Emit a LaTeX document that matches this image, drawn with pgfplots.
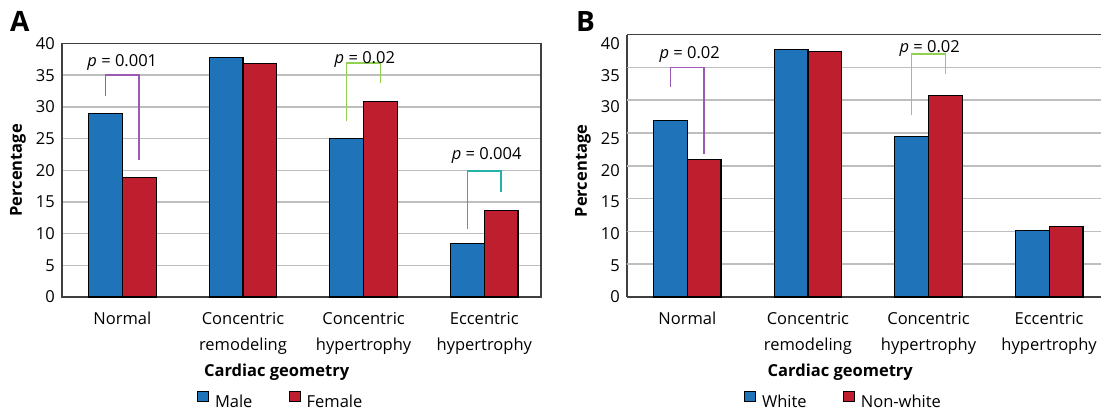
\documentclass[border=0pt]{standalone}
\usepackage{fontspec}
\setmainfont{Open Sans}
\usepackage{pgfplots}
\pgfplotsset{compat=1.18}

\definecolor{barblue}{RGB}{31,115,185}
\definecolor{barred}{RGB}{190,30,45}
\definecolor{brpurple}{RGB}{155,89,182}
\definecolor{brgreen}{RGB}{146,208,80}
\definecolor{brteal}{RGB}{38,178,168}
\definecolor{gridgray}{RGB}{190,190,190}

\newcommand{\lbl}{\fontsize{16.5}{19}\selectfont}

\pgfplotsset{
  panel/.style={
    scale only axis,
    xmin=-0.5, ymin=0, ymax=40,
    xtick={0,1,2,3},
    xticklabels={Normal,{Concentric\\remodeling},{Concentric\\hypertrophy},{Eccentric\\hypertrophy}},
    major tick length=0pt,
    tick style={draw=none},
    axis line style={black!75, line width=1.3pt},
    major grid style={gridgray, line width=1.5pt},
    xticklabel style={font=\fontsize{16.5}{26}\selectfont, align=center, anchor=north, inner sep=0pt, yshift=-15pt},
    yticklabel style={font=\lbl, anchor=east, inner sep=0pt, xshift=-7pt},
    /pgf/number format/assume math mode=true,
    xlabel={Cardiac geometry},
    ylabel={Percentage},
    label style={font=\lbl\bfseries},
    clip=false,
    legend columns=2,
    legend style={draw=none, fill=none, inner sep=0pt, font=\lbl, anchor=north west,
      nodes={inner sep=0pt},
      /tikz/every even column/.append style={column sep=36pt}},
  },
  bars/.style={ybar, bar width=0.28, draw=black, line width=1.2pt, fill=#1,
    legend image code/.code={\draw[##1] (0pt,0pt) rectangle (11pt,10pt); \path (17pt,0pt);}},
  bracket/.style={draw=#1, line width=1.5pt, mark=none, forget plot},
}

\begin{document}
\begin{tikzpicture}

% Panel A: by sex
\begin{axis}[
    panel,
    name=a,
    at={(0pt,0pt)}, anchor=south west,
    width=479pt, height=253.5pt,
    xmax=3.47,
    ytick={0,5,...,40},
    ymajorgrids,
    xlabel style={at={(axis description cs:0.448,0)}, anchor=base, yshift=-79pt},
    ylabel style={at={(axis description cs:-0.0918,0.5)}, anchor=center},
    legend style={at={(axis description cs:0.281,0)}, yshift=-94pt},
]
\addplot[bars=barblue, bar shift=-0.14] coordinates {(0,29.0) (1,37.8) (2,25.0) (3,8.4)};
\addlegendentry{Male}
\addplot[bars=barred, bar shift=0.14] coordinates {(0,18.8) (1,36.9) (2,30.9) (3,13.7)};
\addlegendentry{Female}

\addplot[bracket=brpurple] coordinates {(-0.14,31.7) (-0.14,35) (0.14,35) (0.14,21.6)};
\addplot[bracket=brgreen] coordinates {(1.86,27.8) (1.86,36.9) (2.14,36.9) (2.14,33.7)};
\addplot[bracket=brteal] coordinates {(2.86,10.7) (2.86,19.9) (3.14,19.9) (3.14,16.6)};

\node[anchor=base, font=\lbl] at (axis cs:0,36.3) {\textit{p} = 0.001};
\node[anchor=base, font=\lbl] at (axis cs:2.01,36.9) {\textit{p} = 0.02};
\node[anchor=base, font=\lbl] at (axis cs:3.02,21.7) {\textit{p} = 0.004};
\node[anchor=base west, font=\fontsize{28}{30}\selectfont\bfseries, inner sep=0pt,
      xshift=-52pt, yshift=11.8pt] at (rel axis cs:0,1) {A};
\end{axis}

% Panel B: by race
\begin{axis}[
    panel,
    name=b,
    at={(565pt,0pt)}, anchor=south west,
    width=474pt, height=262.5pt,
    xmax=3.43,
    axis x line*=box, axis y line*=left,
    ytick={0,4.829,9.658,14.487,19.316,24.145,28.974,33.803,38.632},
    yticklabels={0,5,10,15,20,25,30,35,40},
    extra y ticks={5,10,15,20,25,30,35},
    extra y tick labels={},
    extra y tick style={grid=major},
    xlabel style={at={(axis description cs:0.45,0)}, anchor=base, yshift=-79pt},
    ylabel style={at={(axis description cs:-0.0928,0.48)}, anchor=center},
    legend style={at={(axis description cs:0.246,0)}, yshift=-94pt},
]
\addplot[bars=barblue, bar shift=-0.14] coordinates {(0,26.9) (1,37.7) (2,24.4) (3,10.1)};
\addlegendentry{White}
\addplot[bars=barred, bar shift=0.14] coordinates {(0,20.9) (1,37.4) (2,30.7) (3,10.7)};
\addlegendentry{Non-white}

\addplot[bracket=brpurple] coordinates {(-0.14,32.0) (-0.14,35) (0.14,35) (0.14,21.8)};
\addplot[bracket=brgreen] coordinates {(1.86,27.8) (1.86,37.0) (2.14,37.0) (2.14,34.0)};

\node[anchor=base, font=\lbl] at (axis cs:0.02,36.4) {\textit{p} = 0.02};
\node[anchor=base, font=\lbl] at (axis cs:2.01,37.3) {\textit{p} = 0.02};
\node[anchor=base west, font=\fontsize{28}{30}\selectfont\bfseries, inner sep=0pt,
      xshift=-51pt, yshift=3.4pt] at (rel axis cs:0,1) {B};
\end{axis}

\pgfresetboundingbox
\path[use as bounding box] (-62pt,-113pt) rectangle (1039pt,297pt);
\end{tikzpicture}
\end{document}
